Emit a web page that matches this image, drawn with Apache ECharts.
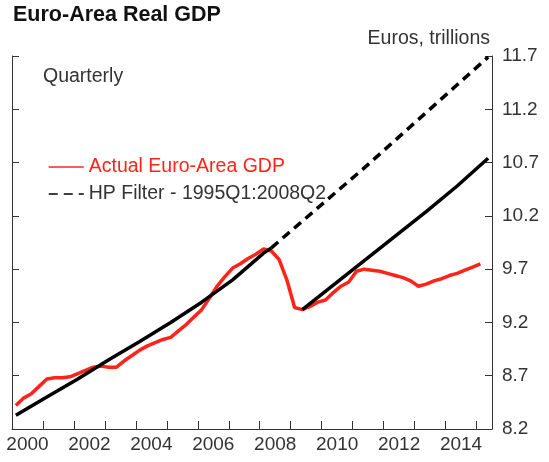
<!DOCTYPE html>
<html>
<head>
<meta charset="utf-8">
<script src="https://cdn.jsdelivr.net/npm/echarts@6/dist/echarts.min.js"></script>
<style>
  html, body { margin: 0; padding: 0; background: #fff; }
  #chart { width: 549px; height: 462px; }
</style>
</head>
<body>
<div id="chart"></div>
<script>
const FONT = 'Liberation Sans, Arial, sans-serif';

// actual GDP, euros trillions, 2000Q1 .. 2015Q1
const firstYear = 2000;
const actualGdp = [
  8.42, 8.49, 8.53, 8.60,   // 2000
  8.67, 8.68, 8.68, 8.69,   // 2001
  8.72, 8.75, 8.78, 8.79,   // 2002
  8.78, 8.78, 8.84, 8.89,   // 2003
  8.94, 8.98, 9.01, 9.04,   // 2004
  9.06, 9.12, 9.18, 9.25,   // 2005
  9.32, 9.43, 9.54, 9.63,   // 2006
  9.71, 9.75, 9.80, 9.84,   // 2007
  9.89, 9.87, 9.79, 9.60,   // 2008
  9.34, 9.32, 9.35, 9.39,   // 2009
  9.41, 9.48, 9.54, 9.58,   // 2010
  9.68, 9.70, 9.69, 9.68,   // 2011
  9.66, 9.64, 9.62, 9.59,   // 2012
  9.54, 9.56, 9.59, 9.61,   // 2013
  9.64, 9.66, 9.69, 9.72,   // 2014
  9.75                      // 2015
];

// HP filter trend (1995Q1:2008Q2)
const hpQuarters = ['2000Q1', '2001Q1', '2002Q1', '2003Q1', '2004Q1', '2005Q1', '2006Q1', '2007Q1', '2008Q1', '2008Q2'];
const hpValues = [8.33, 8.50, 8.67, 8.85, 9.02, 9.20, 9.39, 9.60, 9.85, 9.90];

// trend extended past 2008Q2 (dashed)
const projQuarters = ['2008Q2', '2009Q2', '2010Q2', '2011Q2', '2012Q2', '2013Q2', '2014Q2', '2015Q2'];
const projValues = [9.90, 10.15, 10.40, 10.65, 10.91, 11.17, 11.43, 11.69];

// trend growth restarted from the 2009 trough
const recQuarters = ['2009Q2', '2010Q2', '2011Q2', '2012Q2', '2013Q2', '2014Q2', '2015Q2'];
const recValues = [9.32, 9.55, 9.78, 10.01, 10.24, 10.48, 10.74];

const yTicks = [8.2, 8.7, 9.2, 9.7, 10.2, 10.7, 11.2, 11.7];
const yearTicks = [2001, 2002, 2003, 2004, 2005, 2006, 2007, 2008, 2009, 2010, 2011, 2012, 2013, 2014, 2015];
const yearLabels = [2000, 2002, 2004, 2006, 2008, 2010, 2012, 2014];

const RED = '#ff2419';
const INK = '#333333';

// '2008Q2' -> position in years (middle of quarter)
function qPos(q) {
  const y = parseInt(q.slice(0, 4), 10);
  const n = parseInt(q.slice(5), 10);
  return y + (n - 0.5) / 4;
}

const actualData = actualGdp.map((v, i) => [firstYear + (i + 0.5) / 4, v]);
const hpData = hpQuarters.map((q, i) => [qPos(q), hpValues[i]]);
const projData = projQuarters.map((q, i) => [qPos(q), projValues[i]]);
const recData = recQuarters.map((q, i) => [qPos(q), recValues[i]]);

const chart = echarts.init(document.getElementById('chart'), null, { renderer: 'canvas' });

const yAxisBase = {
  type: 'value',
  min: 8.2,
  max: 11.7,
  splitLine: { show: false },
  axisLine: { show: true, lineStyle: { color: INK, width: 1 } },
  axisTick: { show: true, inside: true, length: 7, customValues: yTicks, lineStyle: { color: INK } },
};

const option = {
  animation: false,
  backgroundColor: '#fff',
  title: {
    text: 'Euro-Area Real GDP',
    left: 8,
    top: -1,
    textStyle: { fontFamily: FONT, fontSize: 21.5, fontWeight: 'bold', color: '#111' },
  },
  graphic: [
    {
      type: 'text',
      right: 59,
      top: 29,
      style: { text: 'Euros, trillions', font: '19.5px ' + FONT, fill: INK },
    },
    {
      type: 'text',
      left: 43,
      top: 67,
      style: { text: 'Quarterly', font: '19.5px ' + FONT, fill: INK },
    },
  ],
  legend: {
    left: 43,
    top: 152,
    orient: 'vertical',
    itemWidth: 35,
    itemHeight: 16,
    itemGap: 7,
    lineStyle: { width: 1.5 },
    itemStyle: { opacity: 0 },
    textStyle: { fontFamily: FONT, fontSize: 19.5, color: INK },
    data: [
      { name: 'Actual Euro-Area GDP', textStyle: { color: RED } },
      { name: 'HP Filter - 1995Q1:2008Q2', textStyle: { color: INK } },
    ],
  },
  grid: { left: 12, right: 57, top: 56, height: 373 },
  xAxis: [
    {
      type: 'value',
      min: 2000,
      max: 2015.5,
      splitLine: { show: false },
      axisLine: { show: true, onZero: false, lineStyle: { color: INK, width: 1 } },
      axisTick: { show: true, inside: true, length: 8, customValues: yearTicks, lineStyle: { color: INK } },
      axisLabel: {
        show: true,
        customValues: yearLabels.map((y) => y + 0.5),
        formatter: (v) => String(Math.floor(v)),
        fontFamily: FONT,
        fontSize: 19,
        color: INK,
        margin: 6,
      },
    },
  ],
  yAxis: [
    Object.assign({}, yAxisBase, {
      position: 'right',
      axisLabel: {
        show: true,
        customValues: yTicks,
        formatter: (v) => v.toFixed(1),
        fontFamily: FONT,
        fontSize: 19,
        color: INK,
        margin: 10,
      },
    }),
    Object.assign({}, yAxisBase, {
      position: 'left',
      axisLabel: { show: false },
    }),
  ],
  series: [
    {
      name: 'Actual Euro-Area GDP',
      type: 'line',
      data: actualData,
      symbol: 'none',
      lineStyle: { color: RED, width: 3.5 },
      itemStyle: { color: RED },
      z: 3,
    },
    {
      name: 'HP Filter trend',
      type: 'line',
      data: hpData,
      symbol: 'none',
      lineStyle: { color: '#000', width: 3.5 },
      itemStyle: { color: '#000' },
      z: 4,
    },
    {
      name: 'HP Filter - 1995Q1:2008Q2',
      type: 'line',
      data: projData,
      symbol: 'none',
      lineStyle: { color: '#000', width: 3.5, type: [9, 6] },
      itemStyle: { color: '#000' },
      z: 4,
    },
    {
      name: 'Trend from trough',
      type: 'line',
      data: recData,
      symbol: 'none',
      lineStyle: { color: '#000', width: 3.5 },
      itemStyle: { color: '#000' },
      z: 4,
    },
  ],
};

chart.setOption(option);
</script>
</body>
</html>
